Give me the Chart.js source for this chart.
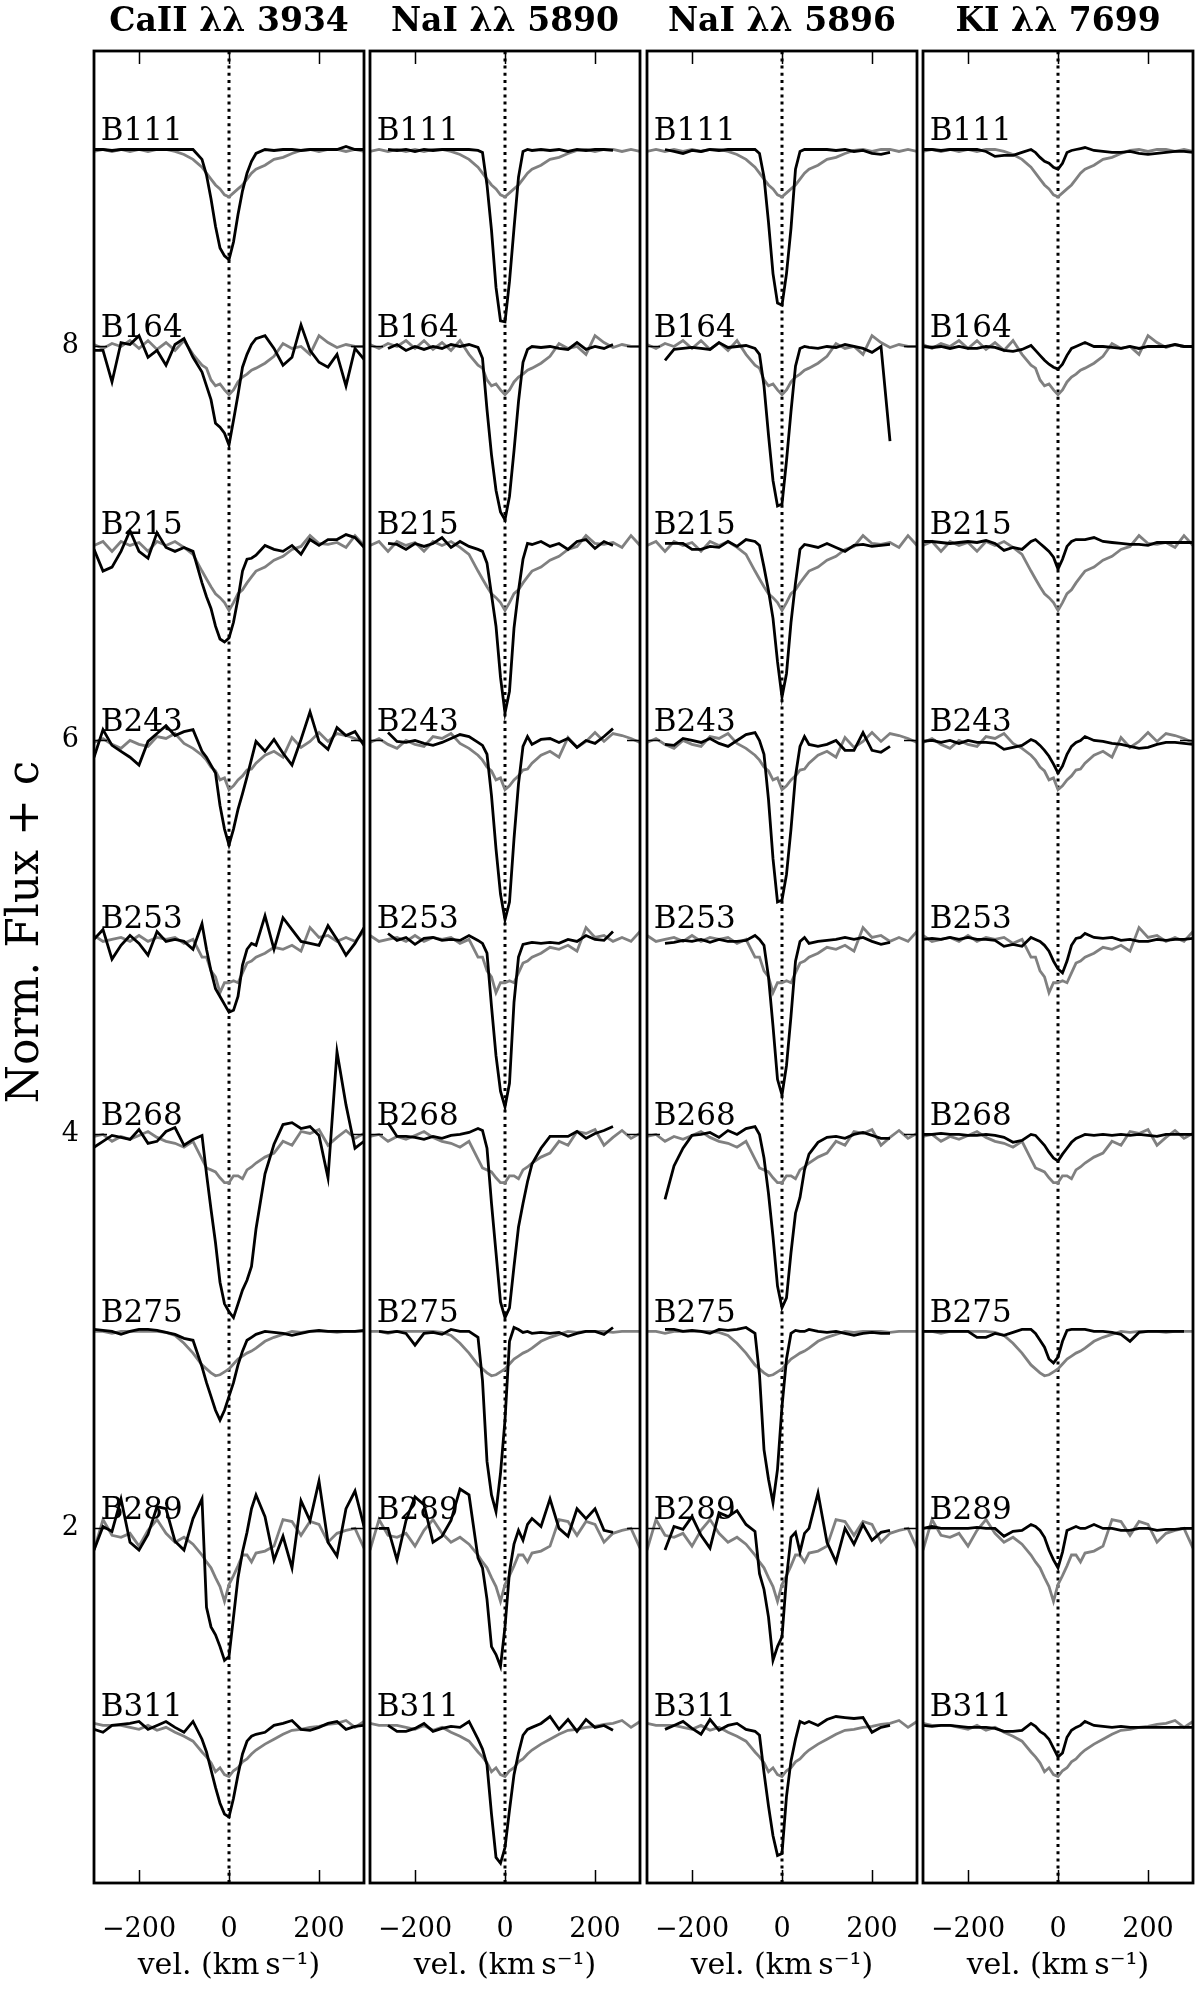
<!DOCTYPE html>
<html>
<head>
<meta charset="utf-8">
<script src="https://cdn.jsdelivr.net/npm/chart.js@4.4.1/dist/chart.umd.min.js"></script>
<style>
    html, body { margin: 0; padding: 0; background: #fff; }
    #wrap { position: relative; width: 1200px; height: 1992px; }
    canvas { position: absolute; top: 0; }
</style>
</head>
<body>
<div id="wrap">
    <canvas id="p0"></canvas>
    <canvas id="p1"></canvas>
    <canvas id="p2"></canvas>
    <canvas id="p3"></canvas>
</div>
<script>
// velocity grid (km/s) shared by every spectrum
const vel = [-300, -280, -260, -240, -220, -200, -180, -160, -140, -120, -100, -80,
    -60, -50, -40, -30, -20, -10, 0, 10, 20, 30, 40, 50, 60,
    80, 100, 120, 140, 160, 180, 200, 220, 240, 260, 280, 300];

const stars = ['B111', 'B164', 'B215', 'B243', 'B253', 'B268', 'B275', 'B289', 'B311'];
const offsets = [8, 7, 6, 5, 4, 3, 2, 1, 0];
const titles = ['CaII λλ 3934', 'NaI λλ 5890', 'NaI λλ 5896', 'KI λλ 7699'];
const xTicks = [-200, 0, 200];
const yTicks = [2, 4, 6, 8];

// grey comparison profile, same for every line of a star
const ref111 = [0.99, 1.00, 0.99, 1.00, 0.99, 1.00, 0.99, 1.00, 1.00, 0.99, 0.975, 0.95,
    0.91, 0.88, 0.85, 0.82, 0.80, 0.77, 0.76, 0.78, 0.80, 0.82, 0.85, 0.88, 0.90,
    0.92, 0.95, 0.96, 0.98, 0.995, 1.00, 0.99, 1.00, 1.00, 0.99, 1.00, 0.99];
const ref164 = [1.01, 0.99, 1.015, 1.00, 1.03, 0.99, 1.03, 0.985, 1.02, 0.98, 1.03, 0.96,
    0.905, 0.89, 0.83, 0.80, 0.81, 0.78, 0.755, 0.78, 0.82, 0.845, 0.86, 0.88, 0.89,
    0.915, 0.95, 1.015, 0.99, 1.00, 0.96, 1.055, 1.02, 0.995, 1.01, 1.00, 1.00];
const ref215 = [0.99, 1.01, 0.96, 1.01, 0.99, 1.005, 0.96, 1.01, 0.99, 1.01, 0.98, 0.945,
    0.86, 0.82, 0.78, 0.745, 0.725, 0.70, 0.66, 0.70, 0.745, 0.765, 0.80, 0.83, 0.86,
    0.88, 0.915, 0.935, 0.97, 0.985, 1.04, 1.00, 0.995, 1.005, 0.98, 1.04, 0.99];
const ref243 = [0.99, 1.01, 0.98, 0.96, 1.00, 0.98, 0.97, 1.02, 1.01, 1.035, 0.985, 0.96,
    0.925, 0.90, 0.865, 0.845, 0.80, 0.81, 0.75, 0.77, 0.80, 0.82, 0.85, 0.855, 0.885,
    0.925, 0.945, 0.915, 1.015, 0.965, 0.995, 1.04, 0.995, 1.035, 1.025, 1.01, 0.99];
const ref253 = [1.01, 0.98, 0.99, 1.00, 0.98, 1.01, 0.98, 1.00, 0.99, 1.00, 0.97, 0.99,
    0.90, 0.90, 0.83, 0.80, 0.72, 0.77, 0.77, 0.78, 0.77, 0.82, 0.87, 0.88, 0.90,
    0.92, 0.95, 0.94, 0.96, 0.93, 1.05, 1.00, 1.01, 0.98, 1.00, 0.98, 1.03];
const ref268 = [0.99, 1.00, 0.965, 0.99, 0.975, 0.995, 1.015, 0.985, 0.965, 0.955, 0.935, 0.965,
    0.875, 0.83, 0.82, 0.81, 0.78, 0.755, 0.755, 0.79, 0.79, 0.775, 0.82, 0.835, 0.855,
    0.885, 0.905, 0.965, 0.945, 1.015, 1.005, 1.025, 0.945, 0.985, 1.02, 0.98, 1.005];
const ref275 = [1.00, 1.00, 0.99, 1.00, 1.00, 1.00, 1.00, 1.00, 0.995, 0.98, 0.94, 0.89,
    0.83, 0.81, 0.79, 0.775, 0.78, 0.795, 0.81, 0.835, 0.86, 0.875, 0.89, 0.90, 0.915,
    0.95, 0.97, 0.985, 1.00, 0.995, 1.00, 1.00, 1.00, 0.995, 1.00, 1.00, 1.00];
const ref289 = [0.89, 1.045, 0.965, 0.955, 0.975, 0.91, 0.99, 1.045, 0.975, 0.93, 0.955, 0.92,
    0.865, 0.83, 0.80, 0.75, 0.705, 0.63, 0.715, 0.76, 0.81, 0.865, 0.865, 0.83, 0.875,
    0.885, 0.91, 1.045, 1.035, 0.965, 1.035, 1.02, 0.93, 0.975, 0.99, 1.00, 0.90];
const ref311 = [1.01, 1.00, 1.00, 1.00, 0.99, 0.98, 1.00, 0.975, 0.99, 0.965, 0.945, 0.92,
    0.865, 0.84, 0.81, 0.765, 0.785, 0.75, 0.74, 0.77, 0.785, 0.815, 0.83, 0.855, 0.875,
    0.905, 0.93, 0.955, 0.975, 0.98, 0.99, 0.995, 1.005, 1.01, 1.025, 0.99, 1.02];

// CaII 3934
const ca111 = [1.00, 1.00, 0.995, 1.00, 1.00, 1.00, 1.00, 1.00, 1.00, 1.00, 1.00, 1.00,
    0.95, 0.87, 0.75, 0.61, 0.50, 0.46, 0.44, 0.53, 0.67, 0.79, 0.88, 0.94, 0.98,
    1.00, 0.995, 1.00, 1.00, 0.995, 1.00, 1.00, 1.00, 1.00, 1.015, 1.00, 1.00];
const ca164 = [0.98, 0.98, 0.82, 1.02, 1.01, 1.055, 0.945, 0.98, 0.905, 1.01, 1.04, 0.945,
    0.87, 0.80, 0.73, 0.61, 0.59, 0.56, 0.50, 0.625, 0.755, 0.895, 0.96, 1.01, 1.04,
    1.055, 0.99, 0.905, 0.945, 1.11, 0.98, 0.92, 0.895, 0.96, 0.80, 0.99, 0.935];
const ca215 = [0.97, 0.86, 0.88, 0.96, 1.065, 0.96, 0.925, 1.055, 0.98, 0.96, 0.98, 0.96,
    0.80, 0.73, 0.67, 0.58, 0.515, 0.50, 0.52, 0.60, 0.72, 0.86, 0.92, 0.925, 0.94,
    0.99, 0.97, 0.96, 0.99, 0.945, 1.02, 0.99, 1.02, 1.02, 1.045, 1.03, 0.98];
const ca243 = [0.915, 1.055, 0.975, 0.945, 0.915, 0.875, 0.995, 1.035, 1.075, 1.025, 1.045, 1.055,
    0.945, 0.915, 0.875, 0.835, 0.67, 0.55, 0.47, 0.55, 0.65, 0.73, 0.815, 0.905, 0.995,
    0.945, 1.005, 0.935, 0.875, 1.005, 1.145, 0.995, 0.955, 1.065, 1.025, 1.045, 0.975];
const ca253 = [0.99, 1.04, 0.89, 0.96, 1.01, 0.97, 0.91, 1.03, 0.98, 0.99, 0.98, 0.94,
    1.07, 0.94, 0.83, 0.74, 0.70, 0.66, 0.62, 0.63, 0.70, 0.86, 0.94, 0.97, 0.96,
    1.11, 0.94, 1.10, 1.04, 0.98, 0.97, 0.96, 1.06, 0.99, 0.91, 0.97, 1.05];
const ca268 = [0.935, 0.965, 0.995, 0.985, 0.975, 1.025, 0.955, 0.965, 1.015, 1.035, 0.945, 0.975,
    0.995, 0.80, 0.62, 0.45, 0.25, 0.14, 0.10, 0.07, 0.14, 0.21, 0.26, 0.33, 0.52,
    0.80, 0.95, 1.05, 1.06, 1.03, 1.04, 0.995, 0.78, 1.42, 1.15, 0.93, 0.965];
const ca275 = [1.01, 1.005, 1.00, 0.985, 1.00, 1.01, 1.01, 1.005, 0.995, 0.985, 0.965, 0.955,
    0.82, 0.74, 0.67, 0.60, 0.55, 0.60, 0.67, 0.74, 0.83, 0.90, 0.955, 0.97, 0.985,
    1.00, 0.995, 0.99, 0.98, 0.99, 1.00, 1.005, 1.00, 1.00, 1.00, 1.00, 1.005];
const ca289 = [0.89, 1.01, 0.985, 1.15, 0.93, 0.89, 0.97, 1.11, 1.10, 0.935, 0.89, 1.05,
    1.15, 0.60, 0.50, 0.46, 0.40, 0.33, 0.35, 0.55, 0.75, 0.88, 0.98, 1.10, 1.17,
    1.06, 0.84, 0.96, 0.80, 1.14, 1.04, 1.24, 0.93, 0.86, 1.10, 1.19, 1.01];
const ca311 = [0.98, 0.965, 1.00, 1.005, 1.01, 1.02, 0.98, 1.00, 1.02, 0.99, 0.965, 1.02,
    0.93, 0.865, 0.775, 0.685, 0.605, 0.55, 0.535, 0.63, 0.75, 0.855, 0.92, 0.945, 0.955,
    0.965, 1.00, 1.01, 1.025, 0.98, 0.975, 0.99, 1.01, 1.02, 0.98, 0.995, 1.00];

// NaI 5890
const na90_111 = [null, null, 1.00, 0.995, 1.00, 0.99, 1.00, 0.995, 1.00, 1.00, 1.00, 1.00,
    0.995, 0.985, 0.82, 0.59, 0.30, 0.13, 0.125, 0.33, 0.60, 0.86, 0.99, 1.00, 0.995,
    1.00, 0.995, 1.00, 0.99, 1.00, 0.995, 1.00, 1.00, 0.995, null, null, null];
const na90_164 = [null, null, 0.99, 1.01, 0.98, 1.00, 0.985, 1.00, 0.99, 1.01, 1.00, 1.01,
    0.995, 0.94, 0.68, 0.45, 0.27, 0.16, 0.12, 0.24, 0.47, 0.72, 0.92, 0.985, 1.00,
    0.995, 1.00, 0.99, 0.985, 1.02, 0.985, 1.00, 0.99, 1.01, null, null, null];
const na90_215 = [null, null, 1.00, 0.995, 0.97, 1.00, 0.985, 1.00, 1.03, 0.98, 1.01, 0.985,
    0.97, 0.96, 0.90, 0.74, 0.58, 0.32, 0.14, 0.25, 0.57, 0.76, 0.92, 1.00, 0.995,
    1.01, 0.985, 1.00, 0.97, 1.01, 1.02, 0.975, 1.01, 0.99, null, null, null];
const na90_243 = [null, null, 1.04, 0.995, 0.99, 1.00, 0.985, 0.975, 0.99, 1.01, 1.03, 1.02,
    0.99, 0.975, 0.93, 0.72, 0.45, 0.22, 0.09, 0.18, 0.50, 0.78, 0.97, 1.02, 0.98,
    1.005, 1.01, 0.99, 1.01, 0.965, 1.00, 0.985, 1.02, 1.06, null, null, null];
const na90_253 = [null, null, 1.02, 0.985, 1.00, 0.965, 0.995, 1.00, 0.985, 0.99, 0.985, 1.01,
    0.985, 0.97, 0.92, 0.65, 0.40, 0.22, 0.14, 0.26, 0.67, 0.90, 0.965, 0.97, 0.975,
    0.97, 0.975, 0.97, 0.99, 0.98, 1.01, 0.99, 0.985, 1.03, null, null, null];
const na90_268 = [null, null, 1.06, 0.99, 0.99, 0.985, 0.975, 0.99, 0.98, 0.995, 1.00, 1.01,
    1.03, 1.02, 0.93, 0.65, 0.40, 0.15, 0.07, 0.12, 0.33, 0.53, 0.65, 0.76, 0.85,
    0.93, 0.99, 0.99, 0.99, 1.015, 0.98, 1.005, 1.02, 1.04, null, null, null];
const na90_275 = [null, 1.00, 0.995, 1.00, 0.99, 0.93, 0.99, 0.995, 0.985, 1.01, 1.00, 1.00,
    0.97, 0.75, 0.34, 0.17, 0.085, 0.28, 0.55, 0.95, 1.02, 1.01, 0.995, 1.00, 0.99,
    0.995, 0.99, 0.995, 0.975, 0.99, 1.00, 1.00, 0.985, 1.02, null, null, null];
const na90_289 = [null, 1.00, 1.00, 0.84, 1.04, 1.16, 1.12, 0.93, 0.96, 1.04, 1.20, 1.17,
    0.85, 0.80, 0.64, 0.40, 0.36, 0.30, 0.50, 0.78, 0.92, 0.99, 0.94, 1.02, 1.05,
    1.01, 1.15, 1.00, 0.96, 1.10, 1.05, 1.10, 0.99, 0.98, null, null, null];
const na90_311 = [null, null, 1.00, 0.97, 0.97, 0.985, 1.01, 0.97, 0.985, 0.995, 0.99, 1.02,
    0.93, 0.88, 0.80, 0.55, 0.33, 0.30, 0.38, 0.57, 0.75, 0.86, 0.95, 0.98, 0.99,
    1.01, 1.045, 0.98, 1.03, 0.97, 1.03, 0.99, 1.00, 0.975, null, null, null];

// NaI 5896
const na96_111 = [null, null, 1.00, 0.99, 0.98, 0.995, 0.99, 1.00, 0.995, 1.00, 1.00, 1.00,
    1.00, 0.98, 0.86, 0.63, 0.37, 0.22, 0.21, 0.37, 0.60, 0.90, 0.99, 1.00, 1.00,
    1.00, 1.00, 0.995, 1.00, 0.99, 0.995, 0.98, 0.975, 0.985, null, null, null];
const na96_164 = [null, null, 0.93, 0.985, 0.99, 0.995, 0.99, 0.985, 1.02, 0.995, 1.00, 1.005,
    0.99, 0.96, 0.80, 0.55, 0.32, 0.19, 0.20, 0.42, 0.67, 0.90, 0.99, 1.00, 0.995,
    0.99, 1.00, 0.995, 1.01, 1.00, 0.99, 0.97, 1.00, 0.52, null, null, null];
const na96_215 = [null, null, 1.00, 1.00, 1.00, 0.97, 0.97, 0.985, 0.98, 1.01, 0.985, 1.02,
    1.01, 0.99, 0.88, 0.76, 0.62, 0.40, 0.22, 0.34, 0.60, 0.80, 0.97, 0.995, 0.99,
    0.98, 1.00, 0.98, 0.96, 0.99, 0.995, 0.985, 0.99, 0.995, null, null, null];
const na96_243 = [null, null, 0.98, 0.975, 1.01, 1.00, 0.99, 1.01, 0.985, 0.97, 1.00, 1.03,
    1.04, 1.00, 0.93, 0.70, 0.40, 0.18, 0.19, 0.32, 0.55, 0.82, 0.97, 1.02, 0.98,
    0.97, 0.98, 1.00, 0.95, 0.95, 1.04, 0.95, 0.94, 0.97, null, null, null];
const na96_253 = [null, null, 0.97, 0.975, 0.985, 0.98, 0.99, 0.975, 0.99, 0.98, 0.98, 0.985,
    1.01, 0.99, 0.96, 0.80, 0.55, 0.28, 0.20, 0.35, 0.60, 0.88, 0.98, 1.00, 0.97,
    0.98, 0.985, 0.99, 1.00, 0.99, 1.00, 0.98, 0.965, 0.975, null, null, null];
const na96_268 = [null, null, 0.67, 0.84, 0.93, 0.995, 1.00, 1.01, 0.985, 1.02, 1.00, 1.03,
    1.04, 1.00, 0.88, 0.70, 0.48, 0.23, 0.12, 0.17, 0.40, 0.60, 0.68, 0.82, 0.90,
    0.96, 0.985, 0.99, 0.98, 1.00, 1.01, 0.995, 0.98, 0.98, null, null, null];
const na96_275 = [null, null, 1.01, 1.01, 1.00, 1.005, 1.00, 0.99, 1.01, 1.005, 1.01, 1.02,
    0.99, 0.78, 0.40, 0.25, 0.13, 0.30, 0.62, 0.86, 0.99, 1.005, 1.00, 1.00, 1.01,
    1.00, 0.995, 1.00, 0.99, 0.98, 0.99, 0.995, 0.99, 0.99, null, null, null];
const na96_289 = [null, null, 0.89, 1.01, 0.995, 1.06, 0.965, 0.90, 1.08, 1.06, 1.09, 1.02,
    0.985, 0.77, 0.69, 0.55, 0.33, 0.40, 0.45, 0.75, 0.955, 0.98, 0.88, 0.975, 1.00,
    1.18, 0.93, 0.83, 1.00, 0.92, 1.02, 0.94, 0.98, 0.99, null, null, null];
const na96_311 = [null, null, 0.98, 1.00, 1.02, 0.985, 0.955, 1.03, 0.975, 1.00, 1.01, 0.98,
    0.97, 0.95, 0.76, 0.59, 0.44, 0.34, 0.35, 0.64, 0.82, 0.93, 1.02, 1.01, 1.02,
    1.00, 1.03, 1.045, 1.04, 1.035, 1.04, 0.965, 0.99, 1.00, null, null, null];

// KI 7699
const k111 = [1.00, 1.00, 0.995, 1.00, 1.00, 1.00, 1.00, 0.99, 0.965, 0.97, 0.97, 0.985,
    1.00, 0.985, 0.96, 0.94, 0.93, 0.91, 0.90, 0.93, 0.985, 0.995, 1.00, 1.005, 1.01,
    0.995, 0.99, 0.985, 0.985, 0.99, 0.98, 0.975, 0.98, 0.985, 0.99, 0.99, 0.985];
const k164 = [1.00, 0.995, 1.00, 0.99, 1.00, 0.99, 0.99, 1.00, 0.995, 0.98, 0.975, 0.985,
    1.005, 0.98, 0.955, 0.93, 0.91, 0.895, 0.885, 0.91, 0.955, 0.99, 1.00, 1.01, 1.02,
    1.00, 1.00, 0.995, 0.99, 1.00, 0.99, 1.00, 1.00, 1.00, 1.01, 1.00, 1.00];
const k215 = [1.01, 1.01, 1.005, 1.00, 1.005, 1.01, 1.005, 1.015, 1.00, 0.965, 0.98, 0.97,
    1.01, 1.02, 1.00, 0.98, 0.96, 0.93, 0.87, 0.92, 0.985, 1.01, 1.02, 1.02, 1.02,
    1.03, 1.01, 1.005, 1.00, 0.995, 0.995, 0.99, 1.005, 1.005, 1.005, 1.005, 1.005];
const k243 = [0.995, 1.00, 0.99, 1.00, 0.985, 1.00, 0.99, 0.99, 0.985, 0.955, 0.965, 0.975,
    1.005, 0.995, 0.975, 0.95, 0.92, 0.88, 0.835, 0.87, 0.93, 0.97, 0.99, 1.00, 1.02,
    1.00, 0.995, 0.985, 0.98, 0.97, 0.96, 0.965, 0.98, 0.99, 0.99, 0.985, 0.98];
const k253 = [0.99, 0.995, 0.99, 1.00, 0.99, 1.00, 0.99, 0.99, 0.985, 0.955, 0.965, 0.955,
    1.00, 0.99, 0.98, 0.96, 0.93, 0.88, 0.84, 0.82, 0.88, 0.96, 0.995, 1.00, 1.02,
    1.00, 0.995, 1.00, 0.985, 0.99, 0.98, 0.98, 0.99, 0.985, 0.99, 0.99, 0.995];
const k268 = [1.00, 1.00, 1.005, 1.00, 1.00, 0.995, 0.995, 1.00, 0.995, 0.985, 0.96, 0.97,
    1.00, 0.995, 0.97, 0.945, 0.91, 0.88, 0.865, 0.90, 0.93, 0.96, 0.98, 0.99, 1.00,
    0.995, 1.00, 0.995, 1.00, 0.995, 1.00, 0.995, 0.99, 1.00, 1.00, 1.00, 1.00];
const k275 = [1.00, 1.00, 1.00, 1.00, 1.00, 1.00, 0.97, 0.97, 0.99, 0.98, 0.995, 1.01,
    1.01, 0.99, 0.955, 0.92, 0.86, 0.84, 0.87, 0.95, 1.005, 1.01, 1.01, 1.01, 1.01,
    1.00, 1.00, 0.995, 0.985, 0.95, 0.995, 1.00, 1.00, 1.00, 1.00, 1.00, null];
const k289 = [1.00, 1.01, 1.00, 1.00, 1.00, 1.00, 1.005, 1.00, 1.00, 0.96, 0.985, 0.99,
    1.02, 1.01, 0.99, 0.955, 0.89, 0.84, 0.80, 0.88, 0.99, 1.00, 1.01, 1.00, 1.00,
    1.02, 1.00, 1.00, 0.99, 0.99, 1.00, 1.00, 0.99, 0.995, 0.995, 1.00, 1.00];
const k311 = [1.00, 0.995, 1.00, 1.00, 0.995, 0.99, 0.99, 0.99, 0.985, 0.97, 0.97, 0.975,
    1.01, 0.995, 0.97, 0.955, 0.93, 0.885, 0.84, 0.86, 0.94, 0.975, 0.99, 1.00, 1.02,
    1.00, 0.995, 0.99, 0.995, 0.99, 0.99, 0.99, 0.99, 0.99, 0.99, 0.99, 0.99];

const refs = [ref111, ref164, ref215, ref243, ref253, ref268, ref275, ref289, ref311];
const lines = [
    [ca111, ca164, ca215, ca243, ca253, ca268, ca275, ca289, ca311],
    [na90_111, na90_164, na90_215, na90_243, na90_253, na90_268, na90_275, na90_289, na90_311],
    [na96_111, na96_164, na96_215, na96_243, na96_253, na96_268, na96_275, na96_289, na96_311],
    [k111, k164, k215, k243, k253, k268, k275, k289, k311]
];

const serif = '"DejaVu Serif", serif';
const yMin = 0.2, yMax = 9.5;
const panelLeft = [94, 370, 647, 923];
const panelWidth = 270;
const H = 1992;

const toPoints = (arr, c) => vel.map((v, i) => ({x: v, y: arr[i] === null ? null : arr[i] + c}));

const framePlugin = {
    id: 'frame',
    afterDatasetsDraw(chart) {
        const {ctx, chartArea: a, scales: {x, y}} = chart;
        ctx.save();
        ctx.fillStyle = '#000';
        ctx.font = '31px ' + serif;
        ctx.textAlign = 'left';
        ctx.textBaseline = 'alphabetic';
        stars.forEach((s, i) => {
            ctx.fillText(s, x.getPixelForValue(-285), y.getPixelForValue(offsets[i] + 1.05));
        });
        ctx.strokeStyle = '#000';
        ctx.lineWidth = 1.5;
        ctx.beginPath();
        xTicks.forEach(v => {
            const px = Math.round(x.getPixelForValue(v)) + 0.5;
            ctx.moveTo(px, a.bottom); ctx.lineTo(px, a.bottom - 13);
            ctx.moveTo(px, a.top); ctx.lineTo(px, a.top + 13);
        });
        yTicks.forEach(v => {
            const py = Math.round(y.getPixelForValue(v)) + 0.5;
            ctx.moveTo(a.left, py); ctx.lineTo(a.left + 13, py);
            ctx.moveTo(a.right, py); ctx.lineTo(a.right - 13, py);
        });
        ctx.stroke();
        ctx.lineWidth = 2.8;
        ctx.strokeRect(a.left, a.top, a.right - a.left, a.bottom - a.top);
        ctx.restore();
    }
};

function makePanel(idx) {
    const first = idx === 0;
    const padL = first ? 94 : 3;
    const canvas = document.getElementById('p' + idx);
    canvas.width = padL + panelWidth + 3;
    canvas.height = H;
    canvas.style.left = (panelLeft[idx] - padL) + 'px';

    const datasets = [];
    stars.forEach((s, i) => {
        datasets.push({
            data: toPoints(lines[idx][i], offsets[i]),
            borderColor: '#000', borderWidth: 2.8, order: 0
        });
        datasets.push({
            data: toPoints(refs[i], offsets[i]),
            borderColor: '#808080', borderWidth: 2.8, order: 1
        });
    });
    datasets.push({
        data: [{x: 0, y: yMin}, {x: 0, y: yMax}],
        borderColor: '#000', borderWidth: 3, borderDash: [3, 4.2], order: 2
    });

    return new Chart(canvas, {
        type: 'line',
        data: {datasets},
        plugins: [framePlugin],
        options: {
            responsive: false,
            animation: false,
            devicePixelRatio: 1,
            layout: {padding: {left: 0, right: 3, top: 0, bottom: 0}},
            elements: {
                point: {radius: 0},
                line: {tension: 0, borderCapStyle: 'butt', borderJoinStyle: 'miter'}
            },
            plugins: {
                legend: {display: false},
                tooltip: {enabled: false},
                title: {
                    display: true,
                    text: titles[idx],
                    fullSize: false,
                    color: '#000',
                    font: {family: serif, size: 33, weight: 'bold'},
                    padding: {top: 3, bottom: 8.4}
                }
            },
            scales: {
                x: {
                    type: 'linear',
                    min: -300,
                    max: 300,
                    afterBuildTicks: s => { s.ticks = xTicks.map(v => ({value: v})); },
                    afterFit: s => {
                        s.height = H - 1883;
                        s.paddingLeft = 0;
                        s.paddingRight = 0;
                    },
                    grid: {display: false, drawTicks: false},
                    border: {display: false},
                    ticks: {
                        color: '#000',
                        font: {family: serif, size: 27},
                        padding: 31,
                        maxRotation: 0,
                        autoSkip: false,
                        callback: v => String(v).replace('-', '\u2212')
                    },
                    title: {
                        display: true,
                        text: 'vel. (km\u2009s\u207B\u00B9)',
                        color: '#000',
                        font: {family: serif, size: 30},
                        padding: {top: 0, bottom: 8}
                    }
                },
                y: {
                    type: 'linear',
                    min: yMin,
                    max: yMax,
                    afterBuildTicks: s => { s.ticks = yTicks.map(v => ({value: v})); },
                    afterFit: s => {
                        s.width = padL;
                        s.paddingTop = 0;
                        s.paddingBottom = 0;
                    },
                    grid: {display: false, drawTicks: false},
                    border: {display: false},
                    ticks: {
                        display: first,
                        color: '#000',
                        font: {family: serif, size: 27},
                        padding: 15
                    },
                    title: {
                        display: first,
                        // leading spaces lift the label a little, as in the original
                        text: '\u00A0\u00A0\u00A0\u00A0\u00A0Norm. Flux + c',
                        color: '#000',
                        font: {family: serif, size: 44},
                        padding: {top: 0, bottom: 0}
                    }
                }
            }
        }
    });
}

[0, 1, 2, 3].forEach(makePanel);
</script>
</body>
</html>
